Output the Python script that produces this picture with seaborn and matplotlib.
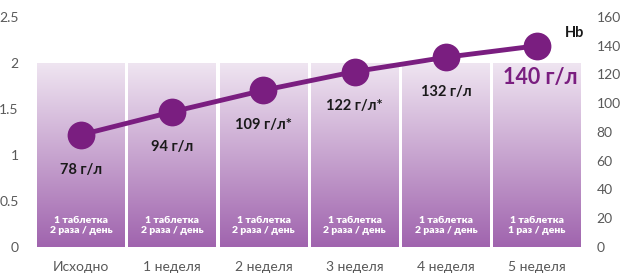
import numpy as np
import pandas as pd
import matplotlib
matplotlib.use("Agg")
import matplotlib.pyplot as plt
import seaborn as sns
from matplotlib.colors import LinearSegmentedColormap

categories = ["Исходно", "1 неделя", "2 неделя", "3 неделя", "4 неделя", "5 неделя"]
bar_values = [2, 2, 2, 2, 2, 2]
hb_values = [78, 94, 109, 122, 132, 140]
hb_labels = ["78 г/л", "94 г/л", "109 г/л*", "122 г/л*", "132 г/л", "140 г/л"]
dose_labels = ["1 таблетка\n2 раза / день"] * 5 + ["1 таблетка\n1 раз / день"]
left_ticks = [0, 0.5, 1, 1.5, 2, 2.5]
left_tick_labels = ["0", "0.5", "1", "1.5", "2", "2.5"]
right_ticks = [0, 20, 40, 60, 80, 100, 120, 140, 160]

sns.set_theme(style="white")
plt.rcParams["font.family"] = ["Lato", "DejaVu Sans"]

purple = "#7a1e80"
tick_color = "#595959"

fig = plt.figure(figsize=(6.2, 2.79), dpi=100)
ax = fig.add_axes([0.057, 0.115, 0.883, 0.824])

df = pd.DataFrame({"cat": categories, "val": bar_values})
sns.barplot(data=df, x="cat", y="val", ax=ax, width=0.96, color="white", edgecolor="none")

cmap = LinearSegmentedColormap.from_list("g", ["#efe5f1", "#a064ae"])
grad = np.linspace(0, 1, 256).reshape(-1, 1)
for p in ax.patches:
    x0, y0 = p.get_x(), p.get_y()
    w, h = p.get_width(), p.get_height()
    im = ax.imshow(grad, cmap=cmap, aspect="auto", extent=[x0, x0 + w, y0, y0 + h],
                   origin="upper", zorder=1)
    im.set_clip_path(p)
    p.set_facecolor("none")

for i, txt in enumerate(dose_labels):
    ax.text(i, 0.23, txt, ha="center", va="center", color="white", fontsize=7.5,
            fontweight="heavy", linespacing=1.2, zorder=3)

ax.set_xlim(-0.5, 5.5)
ax.set_ylim(0, 2.5)
ax.set_yticks(left_ticks)
ax.set_yticklabels(left_tick_labels)
ax.set_xlabel("")
ax.set_ylabel("")
ax.tick_params(axis="both", colors=tick_color, labelsize=10, length=0)
ax.tick_params(axis="x", pad=10)
ax.tick_params(axis="y", pad=12)
for s in ax.spines.values():
    s.set_visible(False)

ax2 = ax.twinx()
x_pos = np.arange(len(categories))
sns.lineplot(x=x_pos, y=hb_values, ax=ax2, color=purple, linewidth=3.5,
             marker="o", markersize=20, markeredgewidth=0, zorder=5)
ax2.set_ylim(0, 160)
ax2.set_xlim(-0.5, 5.5)
ax2.set_yticks(right_ticks)
ax2.tick_params(axis="y", colors=tick_color, labelsize=10, length=0, pad=10)
ax2.set_ylabel("")
for s in ax2.spines.values():
    s.set_visible(False)

for i, (v, lab) in enumerate(zip(hb_values[:-1], hb_labels[:-1])):
    ax2.annotate(lab, (i, v), xytext=(0, -25), textcoords="offset points",
                 ha="center", va="center", fontsize=10.5, fontweight="bold", color="#1a1a1a")
ax2.annotate(hb_labels[-1], (5, hb_values[-1]), xytext=(2, -23), textcoords="offset points",
             ha="center", va="center", fontsize=15.5, fontweight="bold", color=purple)
ax2.annotate("Hb", (5, hb_values[-1]), xytext=(27, 9), textcoords="offset points",
             ha="center", va="center", fontsize=10.5, fontweight="bold", color="#1a1a1a")

fig.savefig("out.png", dpi=100)
